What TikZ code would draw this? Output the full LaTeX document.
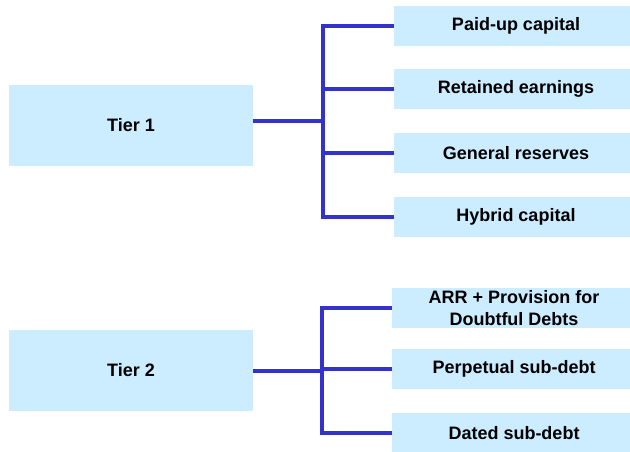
\documentclass[tikz,border=0pt]{standalone}
\usepackage{fontspec}
\setmainfont{Liberation Sans}
\definecolor{boxfill}{HTML}{CCECFF}
\definecolor{linkblue}{HTML}{3333CC}
\tikzset{
    tierbox/.style={fill=boxfill, inner sep=0pt, minimum width=183pt, minimum height=60.75pt,
        font=\fontsize{13.5}{16}\selectfont\bfseries},
    itembox/.style={fill=boxfill, inner sep=0pt, minimum width=183pt, minimum height=30pt,
        align=center, font=\fontsize{13.5}{16}\selectfont\bfseries},
    link/.style={draw=linkblue, line width=3pt}
}
\begin{document}
\begin{tikzpicture}[x=0.75pt,y=-0.75pt]
    \useasboundingbox (0,0) rectangle (630,451);
    \clip (0,0) rectangle (630,451);
    % Tier 1
    \node[tierbox] (tier1) at (131,125.5) {Tier 1};
    \node[itembox] (paidup) at (516,25.5) {Paid-up capital};
    \node[itembox] (retained) at (516,89) {Retained earnings};
    \node[itembox] (reserves) at (516,153) {General reserves};
    \node[itembox] (hybrid) at (516,217) {Hybrid capital};
    \coordinate (fork1) at (323,121);
    \draw[link] (tier1.east |- fork1) -- (fork1);
    \foreach \item in {paidup,retained,reserves,hybrid}
        \draw[link] (fork1) |- (\item.west);
    % Tier 2
    \node[tierbox] (tier2) at (131,370.5) {Tier 2};
    \node[itembox] (provision) at (514,308) {ARR + Provision for\\Doubtful Debts};
    \node[itembox] (perpetual) at (514,369) {Perpetual sub-debt};
    \node[itembox] (dated) at (514,433) {Dated sub-debt};
    \coordinate (fork2) at (322,371);
    \draw[link] (tier2.east |- fork2) -- (fork2);
    \foreach \item in {provision,perpetual,dated}
        \draw[link] (fork2) |- (\item.west);
\end{tikzpicture}
\end{document}
